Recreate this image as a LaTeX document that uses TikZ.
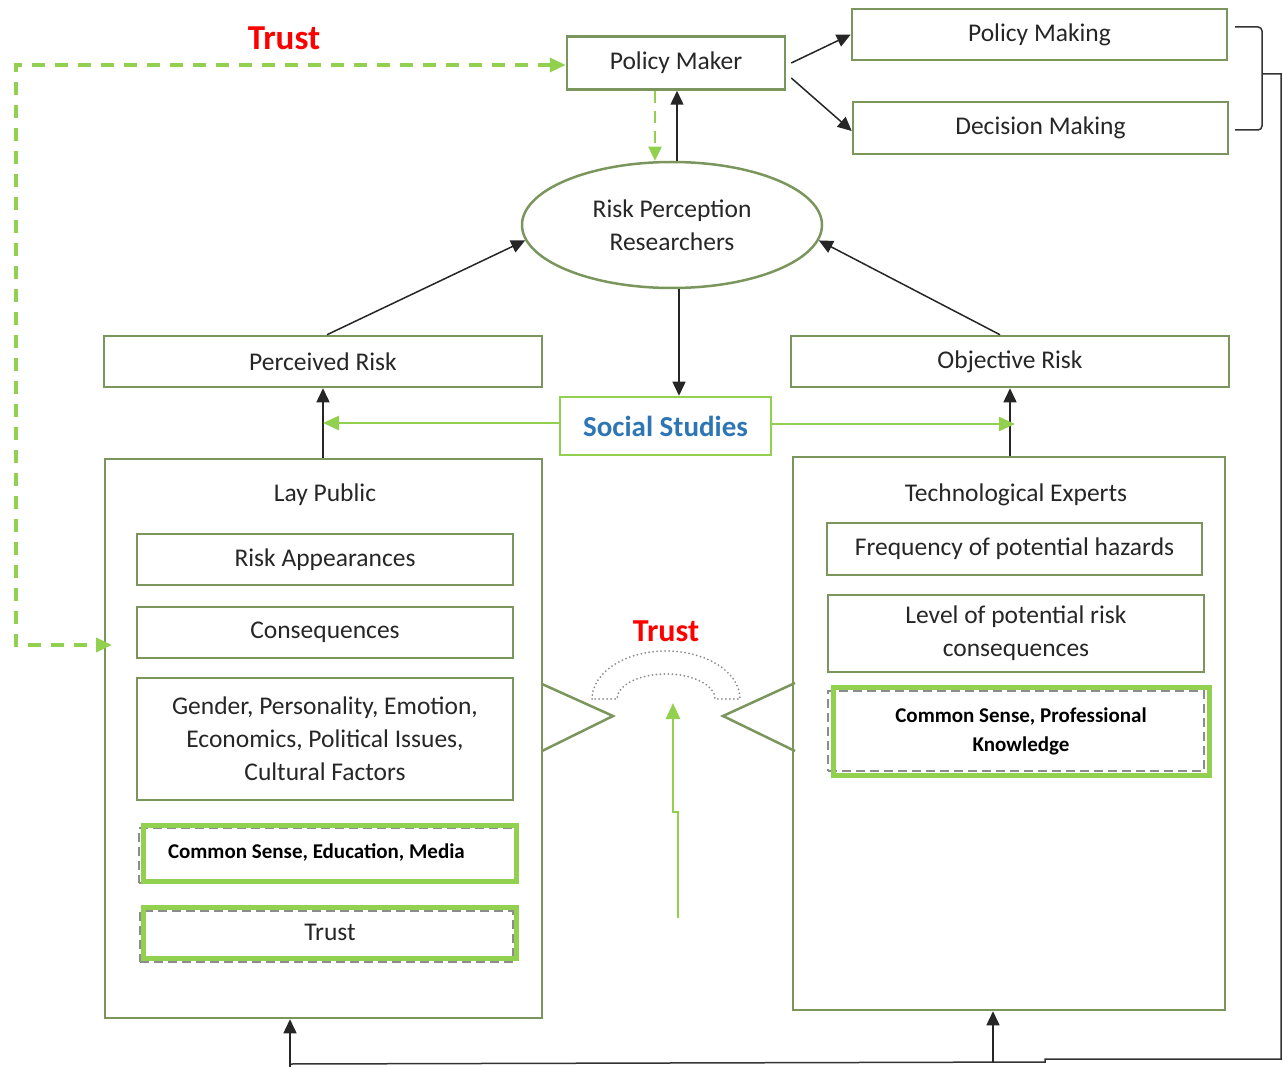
\documentclass[tikz,border=0pt]{standalone}
\usepackage{fontspec}
\setmainfont{Carlito}
\usetikzlibrary{arrows.meta,shapes.geometric}
\definecolor{framegreen}{RGB}{122,150,92}
\definecolor{lightgreen}{RGB}{146,208,80}
\definecolor{studyblue}{RGB}{46,117,182}
\definecolor{textgray}{RGB}{38,38,38}
\definecolor{dotgray}{RGB}{140,140,140}

\begin{document}
\begin{tikzpicture}
            [x=1pt,y=-1pt,
             main/.style = {draw=framegreen,line width=2.5pt,rectangle,inner sep=2pt,align=center,text=textgray,font=\fontsize{25.5}{33}\selectfont},
             group/.style = {draw=framegreen,line width=2.5pt,rectangle,inner sep=0pt},
             title/.style = {text=textgray,font=\fontsize{25.5}{33}\selectfont},
             keybox/.style = {draw=lightgreen,line width=5pt,rectangle,inner sep=0pt,align=center,text=black},
             ghost/.style = {draw=dotgray,line width=1.8pt,dash pattern=on 9pt off 5pt,rectangle,inner sep=0pt},
             link/.style = {-{Triangle[length=14pt,width=13pt]},line width=1.5pt,black!85},
             greenlink/.style = {-{Triangle[length=16pt,width=14pt]},line width=2.5pt,lightgreen},
             trustlink/.style = {{Triangle[length=16pt,width=14pt]}-{Triangle[length=16pt,width=14pt]},line width=3.5pt,lightgreen,dash pattern=on 13pt off 10pt},
             redlabel/.style = {text=red,font=\bfseries\fontsize{35}{40}\selectfont}]
            \useasboundingbox (0,0) rectangle (1283,1067);

            % top row
            \node[main,minimum width=218pt,minimum height=53pt] (PolicyMaker) at (676,63) {Policy Maker};
            \node[main,minimum width=375pt,minimum height=51pt] (PolicyMaking) at (1039.5,34.5) {Policy Making};
            \node[main,minimum width=375pt,minimum height=52pt] (DecisionMaking) at (1040.5,128) {Decision Making};
            \node[redlabel] (TrustTop) at (284,38) {Trust};

            % researchers
            \node[main,ellipse,minimum width=300pt,minimum height=126pt] (Researchers) at (672,225) {Risk Perception\\Researchers};
            \node[main,minimum width=438pt,minimum height=51pt] (PerceivedRisk) at (323,361.5) {Perceived Risk};
            \node[main,minimum width=438pt,minimum height=51pt] (ObjectiveRisk) at (1010,361.5) {Objective Risk};
            \node[main,draw=lightgreen,minimum width=211pt,minimum height=58pt,text=studyblue,font=\bfseries\fontsize{29}{33}\selectfont] (SocialStudies) at (665.5,426) {Social Studies};

            % lay public
            \node[group,minimum width=437pt,minimum height=559pt] (LayPublic) at (323.5,738.5) {};
            \node[title] (LayPublicTitle) at (325,495) {Lay Public};
            \node[main,minimum width=376pt,minimum height=51pt] (RiskAppearances) at (325,559.5) {Risk Appearances};
            \node[main,minimum width=376pt,minimum height=51pt] (Consequences) at (325,632.5) {Consequences};
            \node[main,minimum width=376pt,minimum height=122pt] (Factors) at (325,739) {Gender, Personality, Emotion,\\Economics, Political Issues,\\Cultural Factors};
            \node[ghost,minimum width=376pt,minimum height=55pt] (LayGhostA) at (327,855.5) {};
            \node[keybox,minimum width=373pt,minimum height=56pt,font=\bfseries\fontsize{21}{29}\selectfont] (CommonSenseLay) at (329.5,853) {\makebox[323pt][l]{Common Sense, Education, Media}};
            \node[ghost,minimum width=373pt,minimum height=51pt] (LayGhostB) at (326.5,936.5) {};
            \node[keybox,minimum width=373pt,minimum height=51pt,text=textgray,font=\fontsize{25.5}{33}\selectfont] (TrustLay) at (330,932.5) {Trust};

            % technological experts
            \node[group,minimum width=432pt,minimum height=553pt] (TechExperts) at (1009,733.5) {};
            \node[title] (TechExpertsTitle) at (1016,495) {Technological Experts};
            \node[main,minimum width=375pt,minimum height=52pt] (Frequency) at (1014.5,549) {Frequency of potential hazards};
            \node[main,minimum width=376pt,minimum height=77pt] (LevelRisk) at (1016,633.5) {Level of potential risk\\consequences};
            \node[ghost,minimum width=376pt,minimum height=80pt] (TechGhost) at (1016,731) {};
            \node[keybox,minimum width=376pt,minimum height=88pt,font=\bfseries\fontsize{21}{29}\selectfont] (CommonSenseTech) at (1021,731) {Common Sense, Professional\\Knowledge};

            % trust in the middle
            \node[redlabel,font=\bfseries\fontsize{32}{36}\selectfont] (TrustMid) at (666,631) {Trust};
            \draw[framegreen,line width=2.5pt] (542,684) -- (613,716) -- (542,751);
            \draw[framegreen,line width=2.5pt] (795,683) -- (723,716) -- (795,751);
            \draw[dotgray,line width=2pt,dash pattern=on 0pt off 4pt,line cap=round] (592,699) arc[start angle=180,end angle=0,x radius=74pt,y radius=48pt] -- (715,699) arc[start angle=0,end angle=180,x radius=49pt,y radius=25pt] -- cycle;

            % free ends
            \coordinate (BraceTop) at (1235,27);
            \coordinate (BraceBottom) at (1235,130);
            \coordinate (BraceMid) at (1262,74);
            \coordinate (TrustCorner) at (16,65);
            \coordinate (LayEntry) at (112,645);
            \coordinate (StudyRight) at (1015,424);
            \coordinate (UpFoot) at (678,918);
            \coordinate (UpTip) at (673,703);
            \coordinate (LayFoot) at (290,1067);
            \coordinate (TechFoot) at (993,1062);

            % connectors
            \path[link] ([shift={(5pt,0pt)}]PolicyMaker.east) edge (PolicyMaking.west);
            \path[link] ([shift={(5pt,-15pt)}]PolicyMaker.east) edge ([yshift=-3pt]DecisionMaking.west);
            \path[link] ([xshift=5pt]Researchers.north) edge ([xshift=1pt]PolicyMaker.south);
            \draw[greenlink,-{Triangle[length=14pt,width=13pt]},dash pattern=on 12pt off 8pt] ([xshift=-21pt]PolicyMaker.south) -- ([xshift=-17pt]Researchers.north);
            \path[link] ([xshift=4pt]PerceivedRisk.north) edge (Researchers.186);
            \path[link] ([xshift=-10pt]ObjectiveRisk.north) edge (Researchers.354);
            \path[link] ([xshift=7pt]Researchers.south) edge ([xshift=7pt]Researchers.south |- SocialStudies.north);
            \path[link] (LayPublic.north -| PerceivedRisk.south) edge (PerceivedRisk.south);
            \path[link] (TechExperts.north -| ObjectiveRisk.south) edge (ObjectiveRisk.south);
            \draw[greenlink] ([yshift=3pt]SocialStudies.west) -- ([yshift=3pt]SocialStudies.west -| PerceivedRisk.south);
            \draw[greenlink] (SocialStudies.east |- StudyRight) -- (StudyRight);
            \draw[trustlink] (PolicyMaker.west |- TrustCorner) -- (TrustCorner) |- (LayEntry);
            \draw[greenlink] (UpFoot) -- ++(0,-106) -| (UpTip);

            % feedback to the groups
            \draw[line width=1.5pt,black!80,rounded corners=4pt] (BraceTop) -- (1262,27) -- (1262,130) -- (BraceBottom);
            \draw[line width=1.5pt,black!80] (BraceMid) -- (1281,74) -- (1281,1059) -- (1045,1059) -- (1045,1062) -- (290,1064);
            \path[link] (LayFoot) edge (LayFoot |- LayPublic.south);
            \path[link] (TechFoot) edge (TechFoot |- TechExperts.south);
\end{tikzpicture}
\end{document}
